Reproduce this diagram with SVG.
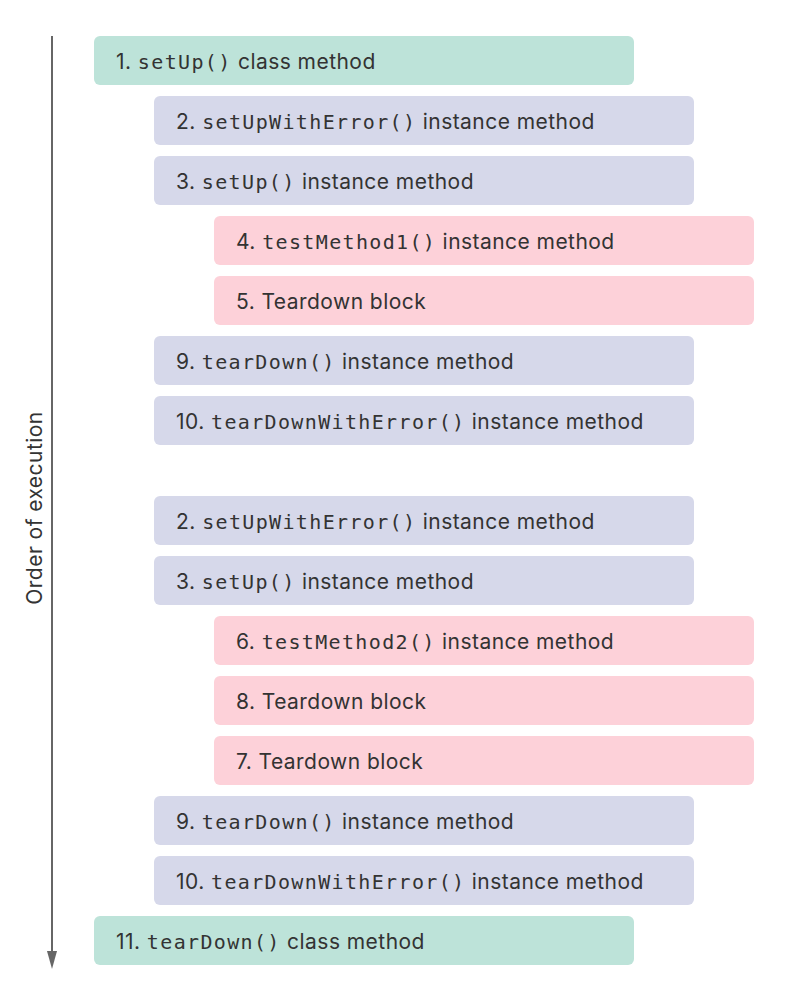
<svg xmlns="http://www.w3.org/2000/svg" width="792" height="1000" viewBox="0 0 792 1000">
<style>
.g{fill:#bde3d9}.p{fill:#d6d8ea}.r{fill:#fdd1d9}
text{font-family:"Inter","Liberation Sans",sans-serif;font-size:21px;letter-spacing:0.45px;fill:#333}
.m{font-family:"DejaVu Sans Mono","Liberation Mono",monospace;font-size:20px;letter-spacing:1.35px}
</style>
<g id="connectors"><line x1="52" y1="36" x2="52" y2="951" stroke="#666" stroke-width="2"/><path d="M47,951 L57,951 L52,969 Z" fill="#666"/></g>
<text transform="translate(42,508) rotate(-90)" text-anchor="middle">Order of execution</text>
<g id="n1"><rect class="g" x="94" y="36" width="540" height="49" rx="6"/><text x="116" y="69">1. <tspan class="m">setUp()</tspan> class method</text></g>
<g id="n2a"><rect class="p" x="154" y="96" width="540" height="49" rx="6"/><text x="176" y="129">2. <tspan class="m">setUpWithError()</tspan> instance method</text></g>
<g id="n3a"><rect class="p" x="154" y="156" width="540" height="49" rx="6"/><text x="176" y="189">3. <tspan class="m">setUp()</tspan> instance method</text></g>
<g id="n4"><rect class="r" x="214" y="216" width="540" height="49" rx="6"/><text x="236" y="249">4. <tspan class="m">testMethod1()</tspan> instance method</text></g>
<g id="n5"><rect class="r" x="214" y="276" width="540" height="49" rx="6"/><text x="236" y="309">5. Teardown block</text></g>
<g id="n9a"><rect class="p" x="154" y="336" width="540" height="49" rx="6"/><text x="176" y="369">9. <tspan class="m">tearDown()</tspan> instance method</text></g>
<g id="n10a"><rect class="p" x="154" y="396" width="540" height="49" rx="6"/><text x="176" y="429">10. <tspan class="m">tearDownWithError()</tspan> instance method</text></g>
<g id="n2b"><rect class="p" x="154" y="496" width="540" height="49" rx="6"/><text x="176" y="529">2. <tspan class="m">setUpWithError()</tspan> instance method</text></g>
<g id="n3b"><rect class="p" x="154" y="556" width="540" height="49" rx="6"/><text x="176" y="589">3. <tspan class="m">setUp()</tspan> instance method</text></g>
<g id="n6"><rect class="r" x="214" y="616" width="540" height="49" rx="6"/><text x="236" y="649">6. <tspan class="m">testMethod2()</tspan> instance method</text></g>
<g id="n8"><rect class="r" x="214" y="676" width="540" height="49" rx="6"/><text x="236" y="709">8. Teardown block</text></g>
<g id="n7"><rect class="r" x="214" y="736" width="540" height="49" rx="6"/><text x="236" y="769">7. Teardown block</text></g>
<g id="n9b"><rect class="p" x="154" y="796" width="540" height="49" rx="6"/><text x="176" y="829">9. <tspan class="m">tearDown()</tspan> instance method</text></g>
<g id="n10b"><rect class="p" x="154" y="856" width="540" height="49" rx="6"/><text x="176" y="889">10. <tspan class="m">tearDownWithError()</tspan> instance method</text></g>
<g id="n11"><rect class="g" x="94" y="916" width="540" height="49" rx="6"/><text x="116" y="949">11. <tspan class="m">tearDown()</tspan> class method</text></g>
</svg>
